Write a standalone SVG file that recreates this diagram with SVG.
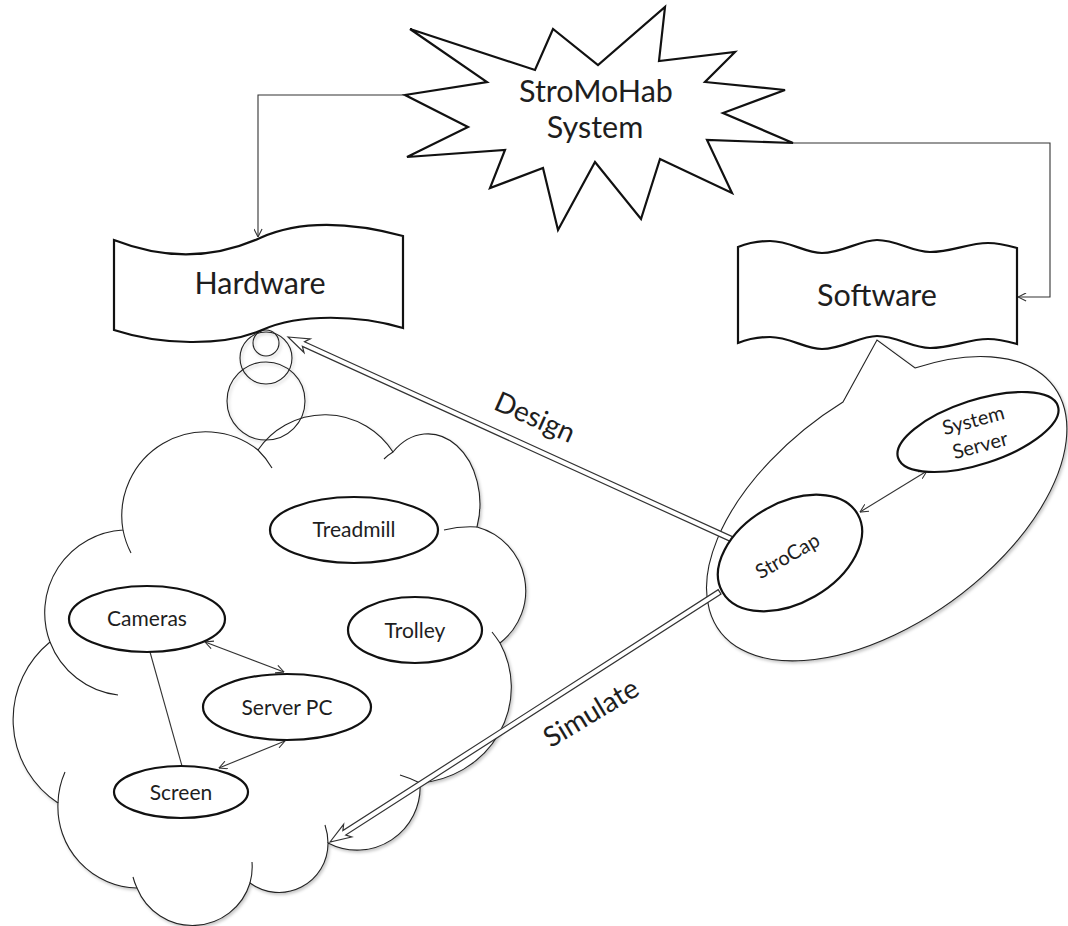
<svg xmlns="http://www.w3.org/2000/svg" width="1068" height="926" viewBox="0 0 1068 926">
  <style>
    text { font-family: Lato, "Open Sans", "Liberation Sans", sans-serif; fill: #1e1e1e; }
    .big { font-size: 30.5px; text-anchor: middle; }
    .lbl { font-size: 28px; text-anchor: middle; }
    .node { font-size: 21px; text-anchor: middle; }
    .oval { fill: #fff; stroke: #111; stroke-width: 2.2; }
    .thin { fill: none; stroke: #222; stroke-width: 1.1; }
    .conn { fill: none; stroke: #333; stroke-width: 1.1; }
    .hollow { fill: #fff; stroke: #333; stroke-width: 1.2; stroke-linejoin: miter; }
    .shape { fill: #fff; stroke: #111; stroke-width: 2.2; stroke-linejoin: miter; }
  </style>
  <defs>
    <marker id="vee" viewBox="0 0 10 10" refX="9.5" refY="5" markerWidth="9" markerHeight="9" markerUnits="userSpaceOnUse" orient="auto-start-reverse">
      <path d="M0.5,0.5 L9.5,5 L0.5,9.5" fill="none" stroke="#333" stroke-width="1.2"/>
    </marker>
    <filter id="soft" x="-5%" y="-5%" width="115%" height="115%">
      <feDropShadow dx="1.5" dy="2" stdDeviation="1.5" flood-color="#000" flood-opacity="0.22"/>
    </filter>
  </defs>

  <rect width="1068" height="926" fill="#fff"/>

  <!-- Hardware cloud with its thought bubbles -->
  <g id="hardware-cloud" filter="url(#soft)">
    <path class="thin" style="fill:#fff" d="M123,530 A84,84 0 0 1 258,450 A81,81 0 0 1 393,452 A52,70 0 0 1 477,527 A66,66 0 0 1 500,643 A100,96 0 0 1 420,783 A63,63 0 0 1 328,843 A49,49 0 0 1 250,883 A60,60 0 0 1 137,888 A81,81 0 0 1 58,803 A100,100 0 0 1 50,642 A83,83 0 0 1 123,530 Z"/>
    <path class="thin" d="M123,530 A84,84 0 0 0 131,553 M258,450 A84,84 0 0 1 272,468 M393,452 Q388,455 384,459 M477,527 Q460,526 444,530 M500,643 Q496,637 492,632 M420,783 Q410,778 400,775 M328,843 Q328,834 325,825 M250,883 A60,60 0 0 0 252,862 M137,888 A60,60 0 0 1 133,877 M58,803 A81,81 0 0 1 65,772 M50,642 A83,83 0 0 0 118,695"/>
    <circle class="thin" cx="266" cy="401" r="39"/>
    <circle class="thin" cx="266" cy="358" r="26"/>
    <circle class="thin" cx="266" cy="343" r="13"/>
  </g>

  <!-- Software callout bubble -->
  <g id="software-callout" filter="url(#soft)">
    <path class="thin" style="fill:#fff" d="M843,402 L877,340 L915,368 A207,113 -36 1 1 843,402 Z"/>
  </g>

  <!-- System burst -->
  <g id="system">
    <polygon class="shape" points="410,29 535,70 553,29 598,65 665,7 659,61 735,52 705,82 785,90 723,113 793,143 707,140 732,193 660,159 641,219 595,162 558,230 543,168 490,188 505,150 407,157 468,127 405,95 487,82"/>
    <text class="big" x="596" y="102">StroMoHab</text>
    <text class="big" x="595" y="138">System</text>
  </g>

  <!-- Hardware banner -->
  <g id="hardware">
    <path class="shape" d="M114,240 C170,262 220,256 260,238 C300,220 350,222 403,236 L403,328 C360,315 300,313 262,330 C222,347 160,345 114,330 Z"/>
    <text class="big" x="260" y="294">Hardware</text>
  </g>

  <!-- Software banner -->
  <g id="software">
    <path class="shape" d="M738,247 C748,243 758,241 770,241 C790,241 805,253 822,253 C842,253 860,240 877,240 C897,240 912,252 930,252 C952,252 968,243 988,243 C1000,243 1010,246 1017,248 L1017,344 C1010,342 1000,339 988,339 C968,339 952,348 930,348 C912,348 897,336 877,336 C860,336 842,349 822,349 C805,349 790,337 770,337 C758,337 748,339 738,343 Z"/>
    <text class="big" x="877" y="306">Software</text>
  </g>

  <!-- Connectors -->
  <g id="connectors">
    <path class="conn" d="M405,95 H258 V237" marker-end="url(#vee)"/>
    <path class="conn" d="M793,143 H1050 V297 H1018" marker-end="url(#vee)"/>
    <line class="conn" x1="860" y1="512" x2="927" y2="471" marker-start="url(#vee)" marker-end="url(#vee)"/>
    <line class="conn" x1="205" y1="642" x2="284" y2="672" marker-start="url(#vee)" marker-end="url(#vee)"/>
    <line class="conn" x1="285" y1="741" x2="219" y2="768" marker-start="url(#vee)" marker-end="url(#vee)"/>
    <line class="conn" x1="150" y1="652" x2="182" y2="766"/>
    <!-- Design: StroCap to Hardware -->
    <polygon class="hollow" transform="translate(288,337) rotate(24.5)" points="0,0 21,-7.5 17,-2.6 489,-2.6 489,2.6 17,2.6 21,7.5"/>
    <!-- Simulate: StroCap to the cloud -->
    <polygon class="hollow" transform="translate(330,842) rotate(-32.7)" points="0,0 21,-7.5 17,-2.6 463,-2.6 463,2.6 17,2.6 21,7.5"/>
    <text class="lbl" x="531" y="426" transform="rotate(24 531 426)">Design</text>
    <text class="lbl" x="596" y="721" transform="rotate(-31 596 721)">Simulate</text>
  </g>

  <!-- Hardware nodes -->
  <g id="treadmill">
    <ellipse class="oval" cx="354" cy="530" rx="84" ry="33"/>
    <text class="node" x="354" y="537">Treadmill</text>
  </g>
  <g id="cameras">
    <ellipse class="oval" cx="147" cy="619" rx="78" ry="33"/>
    <text class="node" x="147" y="626">Cameras</text>
  </g>
  <g id="trolley">
    <ellipse class="oval" cx="415" cy="630" rx="67" ry="33"/>
    <text class="node" x="415" y="638">Trolley</text>
  </g>
  <g id="server-pc">
    <ellipse class="oval" cx="287" cy="707" rx="84" ry="33"/>
    <text class="node" x="287" y="715">Server PC</text>
  </g>
  <g id="screen">
    <ellipse class="oval" cx="181" cy="792" rx="67" ry="26"/>
    <text class="node" x="181" y="800">Screen</text>
  </g>

  <!-- Software nodes -->
  <g id="strocap">
    <ellipse class="oval" cx="790" cy="553" rx="78" ry="50" transform="rotate(-30 790 553)"/>
    <text class="node" x="791" y="562" transform="rotate(-30 791 562)" style="font-size:20px">StroCap</text>
  </g>
  <g id="system-server">
    <ellipse class="oval" cx="978" cy="432" rx="84" ry="32" transform="rotate(-18 978 432)"/>
    <text class="node" x="975" y="427" transform="rotate(-15 975 427)" style="font-size:20px">System</text>
    <text class="node" x="982" y="452" transform="rotate(-15 982 452)" style="font-size:20px">Server</text>
  </g>
</svg>
